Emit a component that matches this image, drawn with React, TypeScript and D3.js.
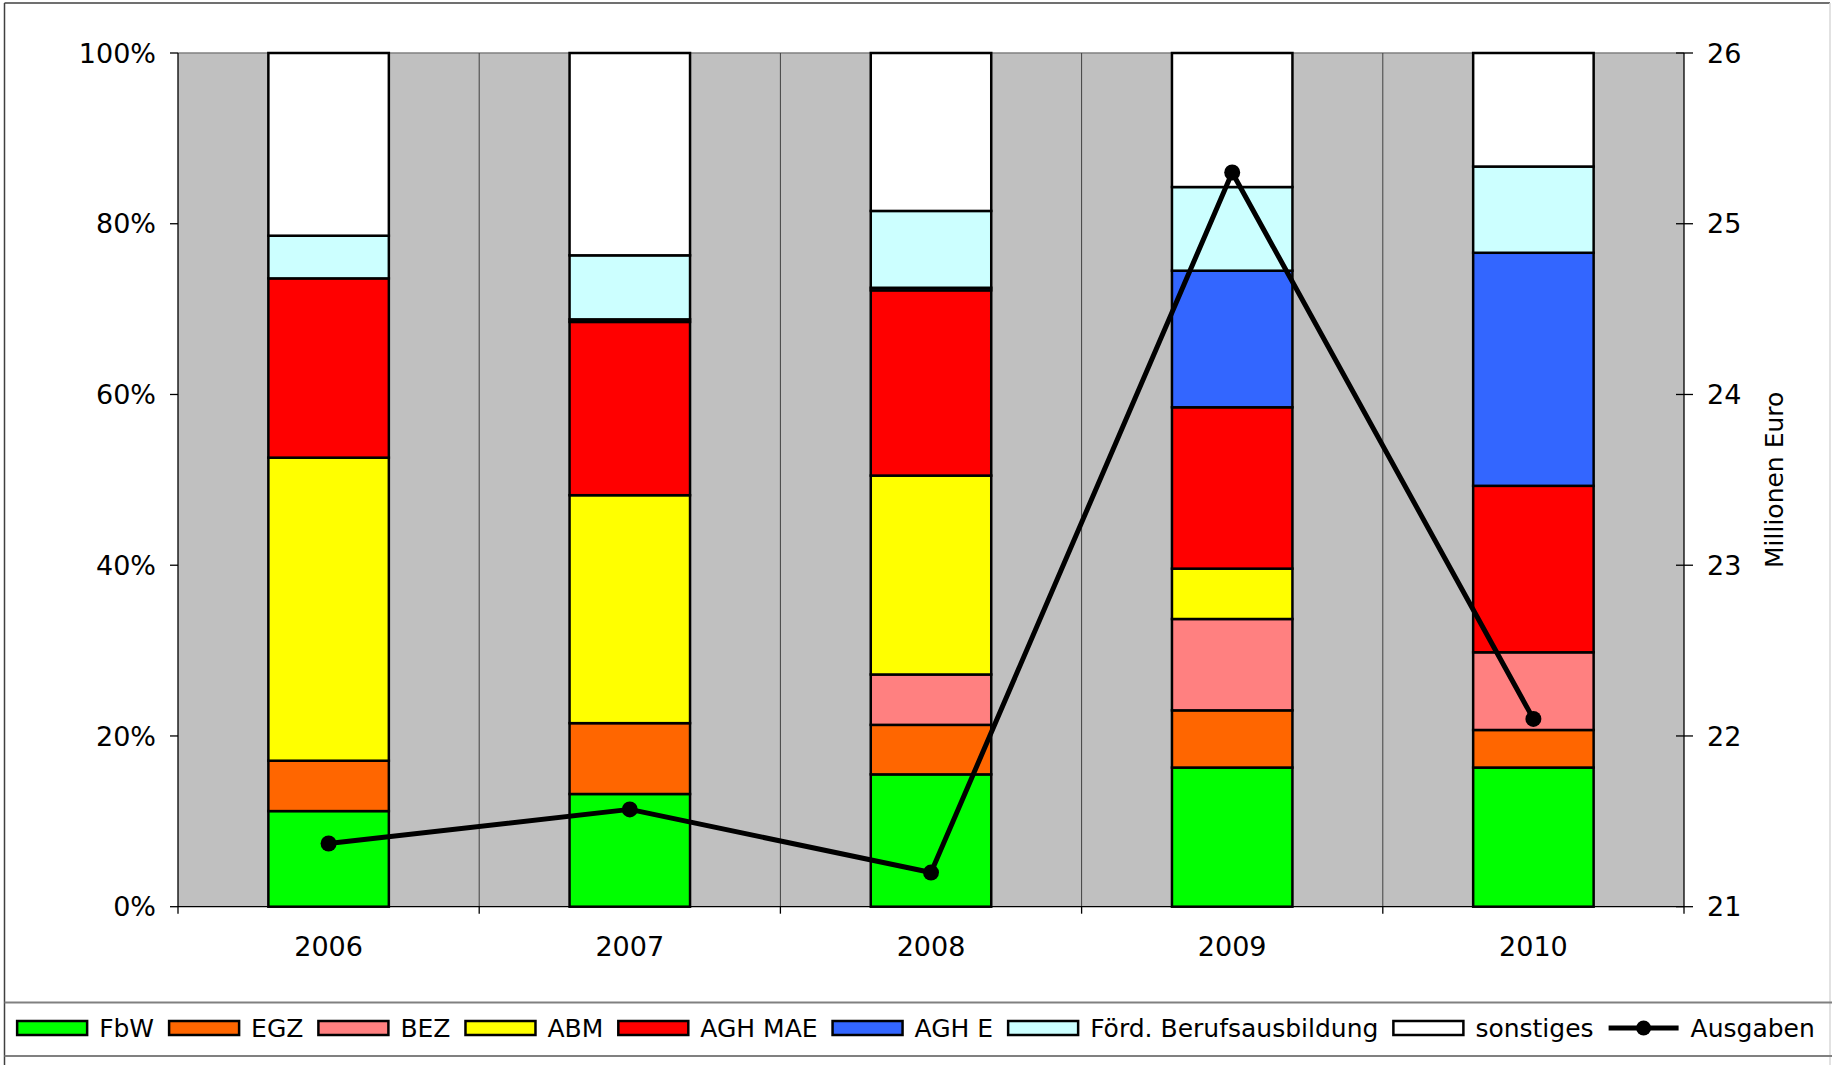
import React, { useEffect, useRef } from "react";
import * as d3 from "d3";

const years = ["2006", "2007", "2008", "2009", "2010"];
const seriesNames = ["FbW", "EGZ", "BEZ", "ABM", "AGH MAE", "AGH E", "Förd. Berufsausbildung", "sonstiges"];
const seriesColors = ["#00FF00", "#FF6600", "#FF8080", "#FFFF00", "#FF0000", "#3366FF", "#CCFFFF", "#FFFFFF"];
const fbw = [11.2, 13.2, 15.5, 16.3, 16.3];
const egz = [5.9, 8.3, 5.8, 6.7, 4.4];
const bez = [0, 0, 5.9, 10.7, 9.1];
const abm = [35.5, 26.7, 23.3, 5.9, 0];
const aghMae = [21.0, 20.3, 21.7, 18.9, 19.5];
const aghE = [0, 0.3, 0.3, 16.0, 27.3];
const foerd = [5.0, 7.5, 9.0, 9.8, 10.1];
const sonstiges = [21.4, 23.7, 18.5, 15.7, 13.3];
const ausgaben = [21.37, 21.57, 21.2, 25.3, 22.1];
const lineName = "Ausgaben";
const leftTicks = [0, 20, 40, 60, 80, 100];
const rightTicks = [21, 22, 23, 24, 25, 26];
const rightTitle = "Millionen Euro";

const W = 1832;
const H = 1065;
const FONT = "'DejaVu Sans', Verdana, sans-serif";

export default function App() {
  const legendRef = useRef<SVGGElement>(null);
  const seriesValues = [fbw, egz, bez, abm, aghMae, aghE, foerd, sonstiges];

  const plot = { left: 178, right: 1684, top: 53, bottom: 906.7 };
  const x = d3.scaleBand<string>().domain(years).range([plot.left, plot.right]).paddingInner(0).paddingOuter(0);
  const yL = d3.scaleLinear().domain([0, 100]).range([plot.bottom, plot.top]);
  const yR = d3.scaleLinear().domain([21, 26]).range([plot.bottom, plot.top]);
  const bw = x.bandwidth() * 0.4;

  const rows = years.map((yr, i) => {
    const r: any = { year: yr };
    seriesNames.forEach((s, k) => (r[s] = seriesValues[k][i]));
    return r;
  });
  const stacked = d3.stack<any>().keys(seriesNames)(rows);

  const linePts: [number, number][] = years.map((yr, i) => [x(yr)! + x.bandwidth() / 2, yR(ausgaben[i])]);
  const linePath = d3.line()(linePts) || "";

  useEffect(() => {
    const g = d3.select(legendRef.current);
    g.selectAll("*").remove();
    const sw = 70, sh = 14, gapT = 12, gapI = 15;
    const cy = 1028;
    const items = [...seriesNames.map((n, k) => ({ name: n, color: seriesColors[k], line: false })), { name: lineName, color: "#000", line: true }];
    const widths: number[] = [];
    const texts = items.map((it) => {
      const t = g.append("text").text(it.name).attr("font-family", FONT).attr("font-size", 25).attr("fill", "#000").attr("y", cy + 9);
      widths.push((t.node() as SVGTextElement).getComputedTextLength());
      return t;
    });
    const total = widths.reduce((a, b) => a + b, 0) + items.length * (sw + gapT) + (items.length - 1) * gapI;
    let cx = W / 2 - total / 2;
    items.forEach((it, k) => {
      if (it.line) {
        g.append("line").attr("x1", cx).attr("x2", cx + sw).attr("y1", cy).attr("y2", cy).attr("stroke", "#000").attr("stroke-width", 5);
        g.append("circle").attr("cx", cx + sw / 2).attr("cy", cy).attr("r", 7.5).attr("fill", "#000");
      } else {
        g.append("rect").attr("x", cx).attr("y", cy - sh / 2).attr("width", sw).attr("height", sh).attr("fill", it.color).attr("stroke", "#000").attr("stroke-width", 2.5);
      }
      texts[k].attr("x", cx + sw + gapT);
      cx += sw + gapT + widths[k] + gapI;
    });
  }, []);

  return (
    <div style={{ position: "absolute", left: 0, top: 0 }}>
      <svg width={W} height={H} style={{ display: "block", background: "#fff" }}>
        {/* outer frame */}
        <line x1={4.5} x2={4.5} y1={3} y2={H} stroke="#404040" strokeWidth={1.5} />
        <line x1={4.5} x2={1830} y1={3} y2={3} stroke="#404040" strokeWidth={1.5} />
        <line x1={1830} x2={1830} y1={3} y2={H} stroke="#d8d8d8" strokeWidth={1.5} />

        {/* plot background */}
        <rect x={plot.left} y={plot.top} width={plot.right - plot.left} height={plot.bottom - plot.top} fill="#C0C0C0" />
        <line x1={plot.left} x2={plot.right} y1={plot.top} y2={plot.top} stroke="#808080" strokeWidth={1.5} />
        {years.slice(1).map((yr) => (
          <line key={yr} x1={x(yr)!} x2={x(yr)!} y1={plot.top} y2={plot.bottom} stroke="#404040" strokeWidth={1} />
        ))}

        {/* bars */}
        {stacked.map((layer, k) =>
          layer.map((d, i) =>
            d[1] - d[0] > 0 ? (
              <rect
                key={`${k}-${i}`}
                x={x(years[i])! + x.bandwidth() / 2 - bw / 2}
                y={yL(d[1])}
                width={bw}
                height={yL(d[0]) - yL(d[1])}
                fill={seriesColors[k]}
                stroke="#000"
                strokeWidth={2.5}
              />
            ) : null
          )
        )}

        {/* axes */}
        <line x1={plot.left} x2={plot.left} y1={plot.top} y2={plot.bottom} stroke="#000" strokeWidth={1.3} />
        <line x1={plot.right} x2={plot.right} y1={plot.top} y2={plot.bottom} stroke="#000" strokeWidth={1.3} />
        <line x1={plot.left} x2={plot.right} y1={plot.bottom} y2={plot.bottom} stroke="#000" strokeWidth={1.3} />
        {[...years.map((yr) => x(yr)!), plot.right].map((xx, i) => (
          <line key={i} x1={xx} x2={xx} y1={plot.bottom} y2={plot.bottom + 7} stroke="#000" strokeWidth={1.3} />
        ))}
        {leftTicks.map((t) => (
          <g key={t}>
            <line x1={plot.left - 8} x2={plot.left} y1={yL(t)} y2={yL(t)} stroke="#000" strokeWidth={1.3} />
            <text x={plot.left - 22} y={yL(t)} dy="0.36em" textAnchor="end" fontFamily={FONT} fontSize={27} fill="#000">
              {t}%
            </text>
          </g>
        ))}
        {rightTicks.map((t) => (
          <g key={t}>
            <line x1={plot.right - 8} x2={plot.right + 9} y1={yR(t)} y2={yR(t)} stroke="#000" strokeWidth={1.3} />
            <text x={plot.right + 23} y={yR(t)} dy="0.36em" textAnchor="start" fontFamily={FONT} fontSize={27} fill="#000">
              {t}
            </text>
          </g>
        ))}
        {years.map((yr) => (
          <text key={yr} x={x(yr)! + x.bandwidth() / 2} y={956} textAnchor="middle" fontFamily={FONT} fontSize={27} fill="#000">
            {yr}
          </text>
        ))}
        <text
          transform={`translate(1783, ${(plot.top + plot.bottom) / 2}) rotate(-90)`}
          textAnchor="middle"
          fontFamily={FONT}
          fontSize={25}
          fill="#000"
        >
          {rightTitle}
        </text>

        {/* line */}
        <path d={linePath} fill="none" stroke="#000" strokeWidth={5} strokeLinejoin="round" />
        {linePts.map((p, i) => (
          <circle key={i} cx={p[0]} cy={p[1]} r={8} fill="#000" />
        ))}

        {/* legend box */}
        <line x1={4.5} x2={W} y1={1002.5} y2={1002.5} stroke="#808080" strokeWidth={2} />
        <line x1={4.5} x2={W} y1={1056} y2={1056} stroke="#808080" strokeWidth={2} />
        <g ref={legendRef} />
      </svg>
    </div>
  );
}
